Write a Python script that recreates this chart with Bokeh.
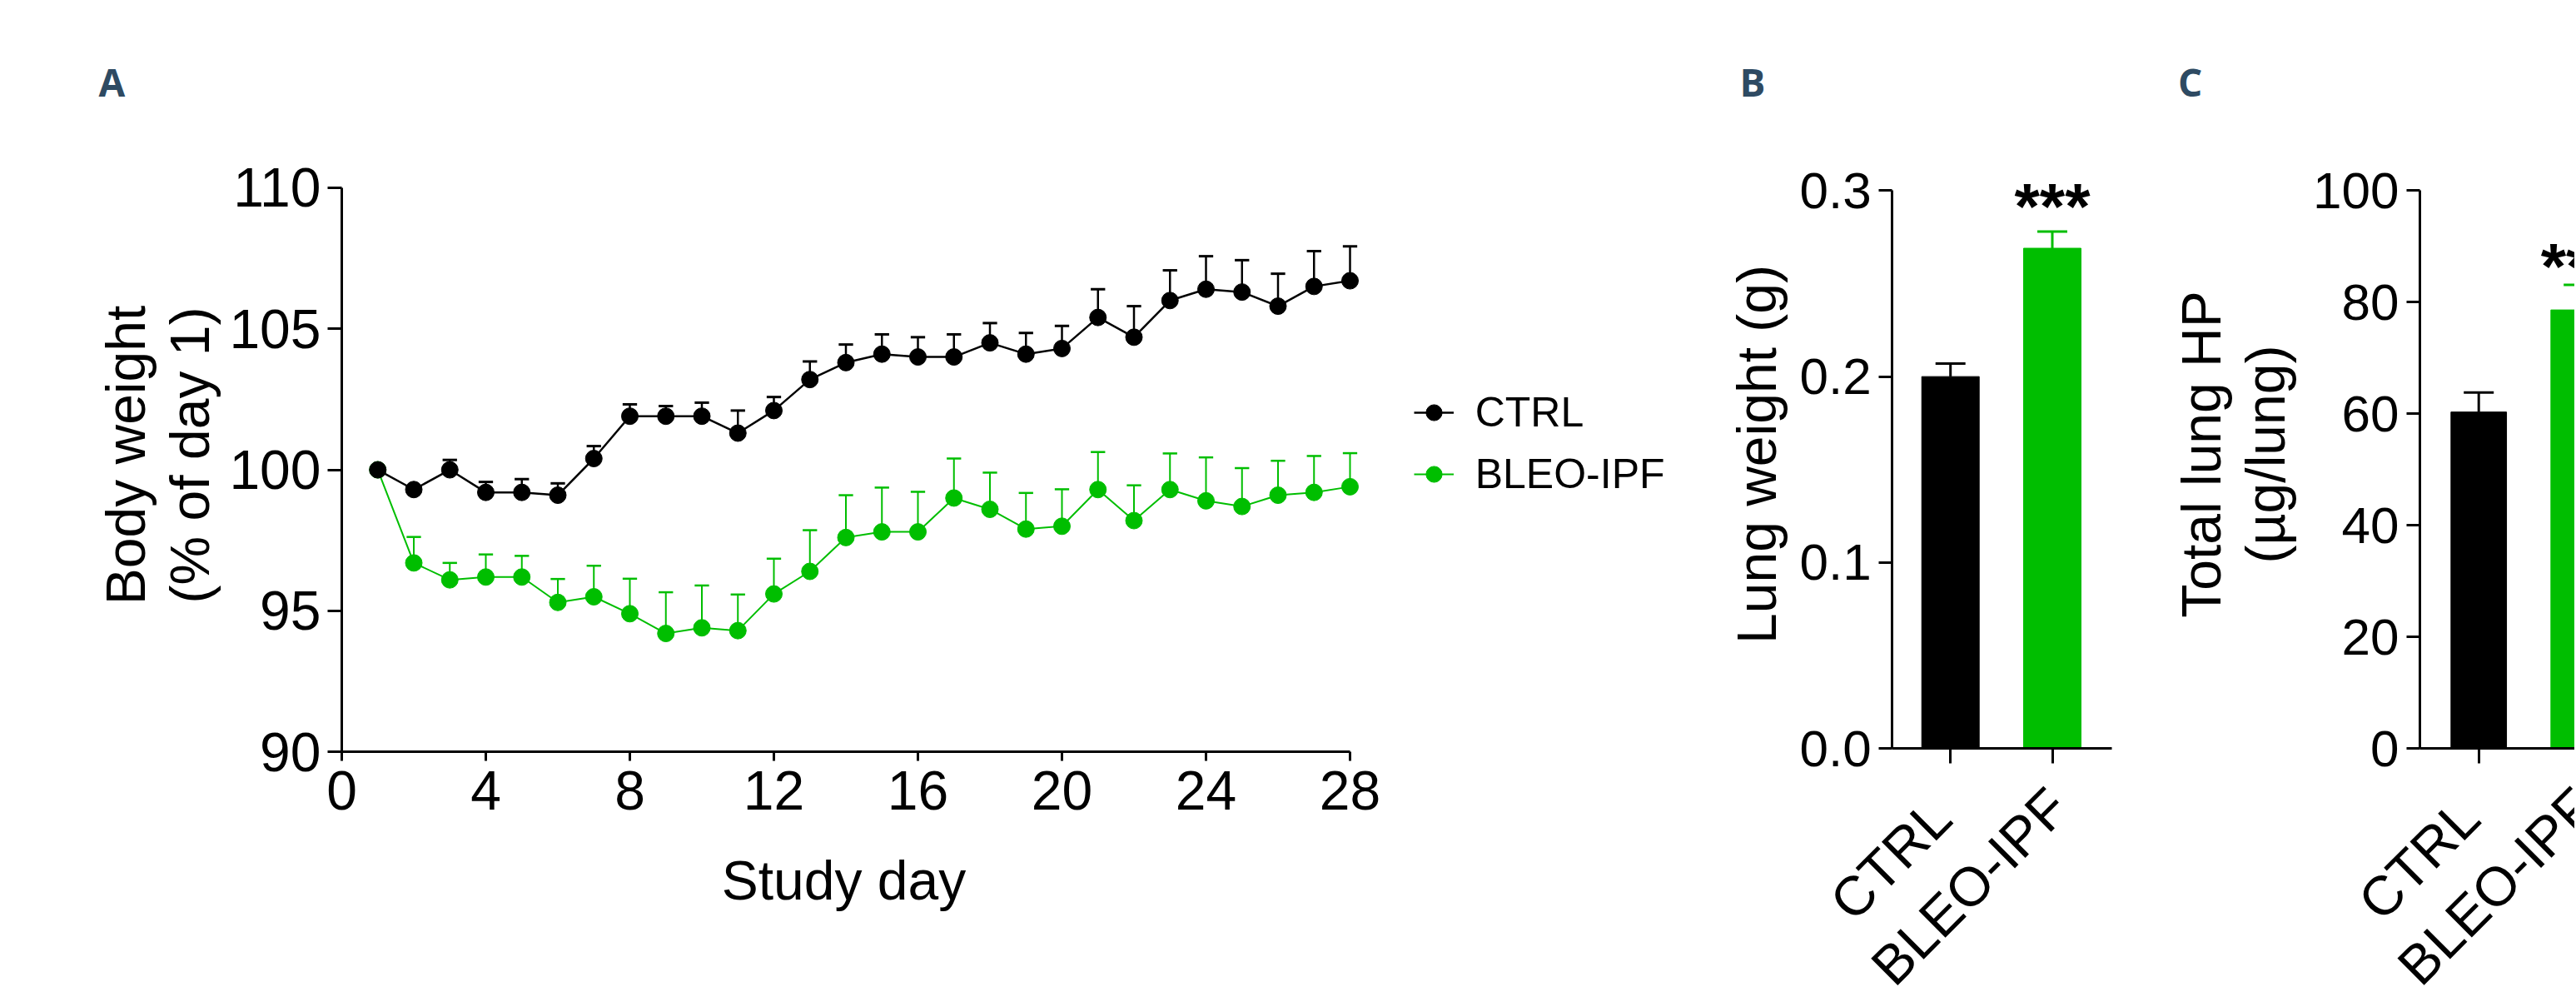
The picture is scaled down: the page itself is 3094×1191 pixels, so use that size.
import math
from bokeh.plotting import figure
from bokeh.models import (Range1d, FixedTicker, PrintfTickFormatter, Label,
                          Legend, LegendItem, ColumnDataSource)
from bokeh.layouts import row
from bokeh.embed import file_html
from bokeh.resources import INLINE

# ---------------- data ----------------
days = list(range(1, 29))
ctrl_mean = [100.0, 99.3, 100.0, 99.2, 99.2, 99.1, 100.4, 101.9, 101.9, 101.9,
             101.3, 102.1, 103.2, 103.8, 104.1, 104.0, 104.0, 104.5, 104.1, 104.3,
             105.4, 104.7, 106.0, 106.4, 106.3, 105.8, 106.5, 106.7]
ctrl_sem = [0.0, 0.0, 0.35, 0.37, 0.47, 0.42, 0.44, 0.42, 0.36, 0.48,
            0.8, 0.48, 0.64, 0.64, 0.7, 0.7, 0.8, 0.7, 0.75, 0.8,
            1.0, 1.1, 1.07, 1.17, 1.13, 1.15, 1.25, 1.22]
bleo_mean = [100.0, 96.7, 96.1, 96.2, 96.2, 95.3, 95.5, 94.9, 94.2, 94.4,
             94.3, 95.6, 96.4, 97.6, 97.8, 97.8, 99.0, 98.6, 97.9, 98.0,
             99.3, 98.2, 99.3, 98.9, 98.7, 99.1, 99.2, 99.4]
bleo_sem = [0.0, 0.92, 0.6, 0.8, 0.75, 0.83, 1.1, 1.24, 1.46, 1.5,
            1.28, 1.25, 1.46, 1.5, 1.57, 1.42, 1.4, 1.3, 1.28, 1.31,
            1.33, 1.25, 1.28, 1.54, 1.36, 1.22, 1.29, 1.19]

groups = ["CTRL", "BLEO-IPF"]
lung_weight = [0.200, 0.269]
lung_weight_sem = [0.007, 0.009]
lung_hp = [60.3, 78.6]
lung_hp_sem = [3.5, 4.5]
signif = "***"

x_ticks_a = [0, 4, 8, 12, 16, 20, 24, 28]
y_ticks_a = [90, 95, 100, 105, 110]
y_ticks_b = [0.0, 0.1, 0.2, 0.3]
y_ticks_c = [0, 20, 40, 60, 80, 100]

BLACK = "#000000"
GREEN = "#00BE00"
LETTER = "#2E4A62"
FONT = "Liberation Sans"
HEIGHT = 1188
TOP = 0  # page offset of the figures


class Geo:
    """Maps page pixels to data, for a figure whose frame fills its canvas."""
    def __init__(self, fig_left, width, x_val, x_px, x_scale, y_val, y_px, y_scale):
        self.fl, self.w = fig_left, width
        self.xs, self.ys = x_scale, y_scale
        self.x0 = x_val - (x_px - fig_left) / x_scale
        self.y1 = y_val + (y_px - TOP) / y_scale

    def xr(self):
        return (self.x0, self.x0 + self.w / self.xs)

    def yr(self):
        return (self.y1 - HEIGHT / self.ys, self.y1)

    def x(self, px):
        return self.x0 + (px - self.fl) / self.xs

    def y(self, py):
        return self.y1 - (py - TOP) / self.ys


def make_fig(g):
    p = figure(width=g.w, height=HEIGHT, x_range=Range1d(*g.xr()), y_range=Range1d(*g.yr()),
               output_backend="svg", toolbar_location=None,
               min_border_left=0, min_border_right=0, min_border_top=0, min_border_bottom=0)
    p.outline_line_color = None
    p.xgrid.grid_line_color = None
    p.ygrid.grid_line_color = None
    p.background_fill_color = "white"
    p.border_fill_color = "white"
    return p


def style_axis(ax, size, tick_out, standoff):
    ax.axis_line_width = 3
    ax.axis_line_color = BLACK
    ax.major_tick_line_width = 3
    ax.major_tick_line_color = BLACK
    ax.major_tick_out = tick_out
    ax.major_tick_in = 0
    ax.minor_tick_line_color = None
    ax.major_label_text_font = FONT
    ax.major_label_text_font_size = size
    ax.major_label_text_color = BLACK
    ax.major_label_standoff = standoff


def add_text(p, x, y, text, size, angle=0.0, align="left", baseline="alphabetic",
             font=FONT, style_="normal", color=BLACK):
    p.add_layout(Label(x=x, y=y, text=text, angle=angle, text_align=align,
                       text_baseline=baseline, text_font=font, text_font_size=size,
                       text_font_style=style_, text_color=color))


# ---------------- panel A ----------------
gA = Geo(0, 2040, 0, 410.0, 43.25, 110, 224.8, 33.875)
pA = make_fig(gA)
cap_a = 0.2


def series(p, mean, sem, color, lw):
    src = ColumnDataSource(dict(
        x=days, y=mean, top=[m + s for m, s in zip(mean, sem)],
        x0=[d - cap_a for d in days], x1=[d + cap_a for d in days]))
    p.segment(x0="x", y0="y", x1="x", y1="top", source=src, line_color=color, line_width=lw)
    p.segment(x0="x0", y0="top", x1="x1", y1="top", source=src, line_color=color, line_width=lw + 0.5)
    ln = p.line(x="x", y="y", source=src, line_color=color, line_width=lw, line_join="round")
    pts = p.scatter(x="x", y="y", source=src, marker="circle", size=20,
                    fill_color=color, line_color=color)
    return ln, pts


g_line, g_pts = series(pA, bleo_mean, bleo_sem, GREEN, 2.0)
c_line, c_pts = series(pA, ctrl_mean, ctrl_sem, BLACK, 2.5)

pA.xaxis.fixed_location = 90
pA.yaxis.fixed_location = 0
pA.xaxis.bounds = (0, 28)
pA.yaxis.bounds = (90, 110)
pA.xaxis.ticker = FixedTicker(ticks=x_ticks_a)
pA.yaxis.ticker = FixedTicker(ticks=y_ticks_a)
style_axis(pA.xaxis[0], "66px", 11, 12)
style_axis(pA.yaxis[0], "66px", 17, 8)

legend = Legend(items=[LegendItem(label=groups[0], renderers=[c_line, c_pts]),
                       LegendItem(label=groups[1], renderers=[g_line, g_pts])],
                location=(1697.7, (TOP + HEIGHT) - 599), orientation="vertical",
                glyph_width=48, glyph_height=60, label_height=60, label_standoff=26,
                spacing=14, padding=10, margin=0, border_line_color=None,
                background_fill_alpha=0, label_text_font=FONT, label_text_font_size="50px",
                label_text_color=BLACK)
pA.add_layout(legend)

add_text(pA, gA.x(118), gA.y(97), "A", "46px", font="Open Sans", style_="bold", color=LETTER)
add_text(pA, gA.x(150), gA.y(546), "Body weight", "66px", angle=math.pi / 2, align="center")
add_text(pA, gA.x(227), gA.y(546), "(% of day 1)", "66px", angle=math.pi / 2, align="center")
add_text(pA, gA.x(1013), gA.y(1056), "Study day", "66px", align="center")


# ---------------- bar panels ----------------
def bar_panel(g, yaxis_px, x_end, y_top, yticks, fmt, vals, errs, letter, letter_px,
              ylabels, star_py, cap_half, bar_w):
    p = make_fig(g)
    xs = list(range(len(groups)))
    colors = [BLACK, GREEN]
    tops = [v + e for v, e in zip(vals, errs)]
    src = ColumnDataSource(dict(x=xs, top=vals, etop=tops, color=colors,
                                x0=[x - cap_half for x in xs], x1=[x + cap_half for x in xs]))
    p.segment(x0="x", y0="top", x1="x", y1="etop", source=src, line_color="color", line_width=3)
    p.segment(x0="x0", y0="etop", x1="x1", y1="etop", source=src, line_color="color", line_width=3)
    p.vbar(x="x", top="top", bottom=0, width=bar_w, source=src,
           fill_color="color", line_color="color", line_width=1)
    y_axis_x = g.x(yaxis_px)
    p.xaxis.fixed_location = 0
    p.yaxis.fixed_location = y_axis_x
    p.xaxis.bounds = (y_axis_x, x_end)
    p.yaxis.bounds = (0, y_top)
    p.xaxis.ticker = FixedTicker(ticks=xs)
    p.yaxis.ticker = FixedTicker(ticks=yticks)
    p.yaxis.formatter = PrintfTickFormatter(format=fmt)
    style_axis(p.xaxis[0], "20px", 18, 0)
    p.xaxis.major_label_text_color = None
    style_axis(p.yaxis[0], "62px", 16, 9)

    add_text(p, g.x(letter_px[0]), g.y(letter_px[1]), letter, "46px",
             font="Open Sans", style_="bold", color=LETTER)
    for px, txt in ylabels:
        add_text(p, g.x(px), g.y(545), txt, "66px", angle=math.pi / 2, align="center")
    add_text(p, xs[1], g.y(star_py), signif, "78px", align="center", style_="bold")
    # rotated category labels, anchored just below each tick (x axis sits at y = 0)
    offs = [(-11, 72), (7, 59)]
    for x, name, (ox, oy) in zip(xs, groups, offs):
        add_text(p, x + ox / g.xs, 0 - oy / g.ys, name, "66px",
                 angle=math.pi / 4, align="right", baseline="middle")
    return p


gB = Geo(2040, 560, 0, 2342.2, 122.3, 0.3, 228.3, 2233.3)
pB = bar_panel(gB, 2272.3, gB.x(2535.5), 0.3, y_ticks_b, "%.1f",
               lung_weight, lung_weight_sem, "B", (2089, 97.5),
               [(2109, "Lung weight (g)")], 247, 0.147, 0.564)

gC = Geo(2600, 492, 0, 2976.7, 120.0, 100, 228.3, 6.697)
pC = bar_panel(gC, 2906.0, gC.x(3092), 100, y_ticks_c, "%d",
               lung_hp, lung_hp_sem, "C", (2615.5, 97.5),
               [(2643, "Total lung HP"), (2720, "(µg/lung)")], 319, 0.15, 0.556)

layout = row(pA, pB, pC)
open("out.html", "w").write(file_html(layout, INLINE))
